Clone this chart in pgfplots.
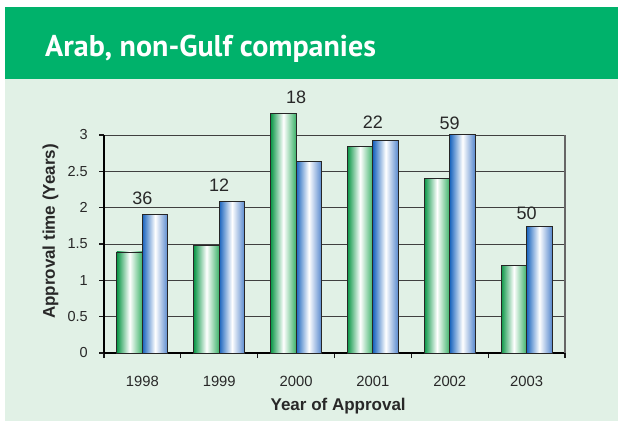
\documentclass[border=0pt]{standalone}
\usepackage{fontspec}
\setmainfont{Liberation Sans}
\newfontfamily\titlefont{PT Sans}
\usepackage{pgfplots}
\pgfplotsset{compat=1.18}
\definecolor{band}{RGB}{0,178,107}
\definecolor{panel}{RGB}{225,241,230}
\definecolor{gdark}{RGB}{10,150,70}
\definecolor{gright}{RGB}{60,178,105}
\definecolor{bdark}{RGB}{25,100,190}
\definecolor{bright}{RGB}{85,135,205}
\definecolor{txt}{RGB}{40,40,40}
\pgfplotsset{
  gbar/.style={ybar, bar width=0.332, bar shift=-0.166, draw=black!85, line width=0.9pt,
    left color=gdark, right color=gright, middle color=white},
  bbar/.style={ybar, bar width=0.332, bar shift=0.166, draw=black!85, line width=0.9pt,
    left color=bdark, right color=bright, middle color=white},
}
\begin{document}
\begin{tikzpicture}[x=1pt,y=1pt]
\fill[white] (0,0) rectangle (618,421);
\fill[band] (5,342) rectangle (618,414);
\fill[panel] (5,0) rectangle (618,342);
\node[anchor=base west, inner sep=0pt, text=white, font=\titlefont\bfseries\fontsize{30}{36}\selectfont] at (45,364) {Arab, non-Gulf companies};
\begin{axis}[
  at={(104pt,68pt)}, anchor=south west,
  scale only axis, width=461pt, height=218pt,
  xmin=0.5, xmax=6.5, ymin=0, ymax=3, clip=false,
  axis x line*=bottom, axis y line*=left,
  axis line style={-, line width=1.6pt, black},
  xtick align=outside, ytick align=outside,
  major tick length=5pt,
  xtick={0.5,1.5,2.5,3.5,4.5,5.5,6.5},
  xticklabels={},
  extra x ticks={1,2,3,4,5,6},
  extra x tick labels={1998,1999,2000,2001,2002,2003},
  extra x tick style={tick style={draw=none}},
  ytick={0,0.5,1,1.5,2,2.5,3},
  tick style={black!90, line width=1.3pt},
  ymajorgrids, grid style={black!75, line width=0.9pt},
  /pgf/number format/assume math mode=true,
  xticklabel style={font=\fontsize{14.8}{16}\selectfont, text=txt, anchor=base, yshift=-28pt},
  yticklabel style={font=\fontsize{14.5}{16}\selectfont, text=txt, anchor=east, inner sep=0pt, xshift=-11pt},
  xlabel={Year of Approval},
  ylabel={Approval time (Years)},
  xlabel style={at={(axis description cs:0.508,-0.2615)}, anchor=base, font=\bfseries\fontsize{17}{20}\selectfont, text=txt},
  ylabel style={at={(axis description cs:-0.1063,0.557)}, anchor=base, font=\bfseries\fontsize{17}{20}\selectfont, text=txt},
]
\addplot[gbar] coordinates {(1,1.39)};
\addplot[gbar] coordinates {(2,1.48)};
\addplot[gbar] coordinates {(3,3.29)};
\addplot[gbar] coordinates {(4,2.84)};
\addplot[gbar] coordinates {(5,2.40)};
\addplot[gbar] coordinates {(6,1.20)};
\addplot[bbar] coordinates {(1,1.90)};
\addplot[bbar] coordinates {(2,2.09)};
\addplot[bbar] coordinates {(3,2.64)};
\addplot[bbar] coordinates {(4,2.93)};
\addplot[bbar] coordinates {(5,3.01)};
\addplot[bbar] coordinates {(6,1.74)};
\addplot[draw=none, mark=none, nodes near coords, point meta=explicit symbolic,
  nodes near coords style={anchor=south, inner sep=0pt, font=\fontsize{18}{20}\selectfont, text=txt}]
  coordinates {(1,2.04)[36] (2,2.22)[12] (3,3.43)[18] (4,3.08)[22] (5,3.07)[59] (6,1.83)[50]};
\draw[black!60, line width=1.2pt] (axis cs:6.5,0) -- (axis cs:6.5,3);
\end{axis}
\path[use as bounding box] (0,0) rectangle (618,421);
\end{tikzpicture}
\end{document}
